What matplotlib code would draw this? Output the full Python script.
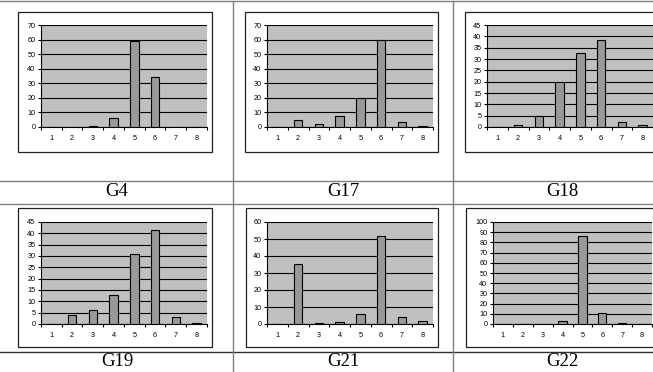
import matplotlib
matplotlib.use("Agg")
import matplotlib.pyplot as plt
from matplotlib.patches import Rectangle
from matplotlib.lines import Line2D

categories = [1, 2, 3, 4, 5, 6, 7, 8]
names = ["G4", "G17", "G18", "G19", "G21", "G22"]
g4 = [0, 0, 0.5, 6, 59, 34, 0, 0]
g17 = [0, 5, 2, 7.5, 20, 60, 3.5, 1]
g18 = [0, 1, 5, 20, 32.5, 38.5, 2, 0.7]
g19 = [0, 4, 6, 13, 31, 41.5, 3.2, 0.3]
g21 = [0, 35.5, 0.5, 1, 6, 52, 4, 2]
g22 = [0, 0, 0, 2.5, 86.5, 11, 1, 0]
series = [g4, g17, g18, g19, g21, g22]
ymax = [70, 70, 45, 45, 60, 100]
ystep = [10, 10, 5, 5, 10, 10]

W, H = 653, 372
fig = plt.figure(figsize=(W / 100, H / 100), dpi=100)
fig.patch.set_facecolor("white")


def fx(x):
    return x / W


def fy(y):
    return 1 - y / H


# table lines
line_col = "#7f7f7f"
for y, c in [(0.6, line_col), (180.5, line_col), (204.5, line_col), (352, "#303030")]:
    fig.add_artist(Line2D([0, 1], [fy(y), fy(y)], transform=fig.transFigure,
                          color=c, lw=1.0))
for x in [232.5, 452.5]:
    fig.add_artist(Line2D([fx(x), fx(x)], [fy(0.6), 0], transform=fig.transFigure,
                          color=line_col, lw=1.0))

# chart boxes (left, top, right, bottom) and plot areas (left, top, right, bottom)
boxes = [(18, 12, 212, 152), (245, 12, 438, 152), (465, 12, 660, 152),
         (18, 208, 212, 347), (246, 208, 438, 347), (466, 208, 660, 347)]
plots = [(41, 25, 207, 127), (267, 25, 433, 127), (487, 25, 653, 127),
         (41, 222, 207, 324), (267, 222, 433, 324), (493, 222, 652, 324)]
label_pos = [(117, 192), (343, 192), (562, 192), (117, 362), (343, 362), (562, 362)]

for i in range(6):
    bl, bt, br, bb = boxes[i]
    fig.add_artist(Rectangle((fx(bl), fy(bb)), fx(br) - fx(bl), fy(bt) - fy(bb),
                             transform=fig.transFigure, facecolor="white",
                             edgecolor="#202020", lw=0.9, zorder=0))
    pl, pt, pr, pb = plots[i]
    ax = fig.add_axes([fx(pl), fy(pb), fx(pr) - fx(pl), fy(pt) - fy(pb)])
    ax.set_facecolor("#c0c0c0")
    ax.bar(categories, series[i], width=0.42, color="#999999",
           edgecolor="black", linewidth=0.8, zorder=3)
    ax.set_xlim(0.5, 8.5)
    ax.set_ylim(0, ymax[i])
    yt = list(range(0, ymax[i] + 1, ystep[i]))
    ax.set_yticks(yt)
    ax.set_yticklabels([str(v) for v in yt])
    ax.yaxis.grid(True, color="black", lw=0.8, zorder=1)
    ax.set_axisbelow(True)
    ax.set_xticks(categories)
    ax.set_xticklabels([str(c) for c in categories])
    ax.set_xticks([c + 0.5 for c in [0] + categories], minor=True)
    ax.tick_params(axis="x", which="major", length=0, pad=6, labelsize=5.2,
                   labelfontfamily="Liberation Sans")
    ax.tick_params(axis="x", which="minor", length=2, width=0.8, direction="out")
    ax.tick_params(axis="y", length=2, width=0.8, direction="out", pad=2,
                   labelsize=5.2, labelfontfamily="Liberation Sans")
    for s in ["top", "right"]:
        ax.spines[s].set_visible(False)
    ax.spines["left"].set_linewidth(0.8)
    ax.spines["bottom"].set_linewidth(0.8)
    lx, ly = label_pos[i]
    fig.text(fx(lx), fy(ly), names[i], ha="center", va="center",
             fontsize=13.5, family="Liberation Serif")

fig.savefig("out.png", dpi=100)
